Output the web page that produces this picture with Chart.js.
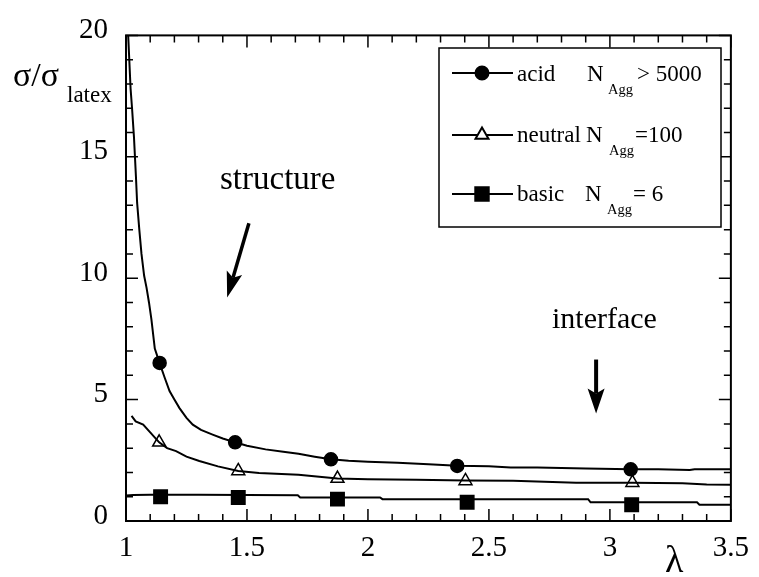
<!DOCTYPE html>
<html>
<head>
<meta charset="utf-8">
<script src="https://cdn.jsdelivr.net/npm/chart.js@4.4.1/dist/chart.umd.min.js"></script>
<style>
  html, body { margin: 0; padding: 0; background: #fff; }
  #wrap { position: relative; width: 759px; height: 577px; overflow: hidden; }
  canvas { position: absolute; left: 0; top: 0; }
  .t { position: absolute; font-family: 'Liberation Serif', 'Times New Roman', serif; line-height: 1; white-space: nowrap; color: #000; }
</style>
</head>
<body>
<div id="wrap"><canvas id="chart" width="759" height="577"></canvas></div>
<script>
// --- DATA ---
const xTicks = [1, 1.5, 2, 2.5, 3, 3.5];
const yTicks = [0, 5, 10, 15, 20];

const acidLambda = [1.009, 1.019, 1.025, 1.033, 1.041, 1.046, 1.055, 1.064, 1.075, 1.085, 1.095, 1.105, 1.119, 1.139, 1.160, 1.180, 1.200, 1.221, 1.250, 1.276, 1.310, 1.358, 1.400, 1.451, 1.500, 1.577, 1.650, 1.713, 1.780, 1.847, 1.920, 2.000, 2.123, 2.250, 2.369, 2.500, 2.590, 2.700, 2.900, 3.086, 3.200, 3.330, 3.350, 3.500];
const acidSigma  = [20.0, 17.8, 17.0, 15.8, 14.2, 13.1, 12.0, 11.0, 10.1, 9.6, 9.0, 8.3, 7.1, 6.5, 5.9, 5.35, 5.0, 4.65, 4.25, 3.97, 3.75, 3.56, 3.4, 3.24, 3.1, 2.95, 2.85, 2.77, 2.65, 2.54, 2.48, 2.44, 2.40, 2.34, 2.28, 2.25, 2.20, 2.20, 2.16, 2.13, 2.13, 2.10, 2.13, 2.13];

const neutralLambda = [1.023, 1.040, 1.071, 1.100, 1.137, 1.170, 1.207, 1.250, 1.303, 1.380, 1.464, 1.550, 1.713, 1.874, 2.000, 2.200, 2.403, 2.600, 2.860, 3.093, 3.300, 3.400, 3.500];
const neutralSigma  = [4.33, 4.10, 3.97, 3.65, 3.24, 3.00, 2.88, 2.65, 2.47, 2.25, 2.06, 1.98, 1.90, 1.75, 1.72, 1.70, 1.67, 1.66, 1.58, 1.58, 1.55, 1.50, 1.49];

const basicLambda = [1.000, 1.030, 1.100, 1.300, 1.500, 1.710, 1.720, 2.050, 2.060, 2.910, 2.920, 3.360, 3.370, 3.500];
const basicSigma  = [1.05, 1.07, 1.08, 1.08, 1.07, 1.06, 0.97, 0.97, 0.90, 0.90, 0.77, 0.77, 0.67, 0.67];

// symbols on each curve
const acidMarkLambda = [1.139, 1.451, 1.847, 2.369, 3.086];
const acidMarkSigma  = [6.51, 3.24, 2.54, 2.27, 2.13];
const neutralMarkLambda = [1.137, 1.464, 1.874, 2.403, 3.093];
const neutralMarkSigma  = [3.24, 2.06, 1.75, 1.65, 1.58];
const basicMarkLambda = [1.143, 1.464, 1.874, 2.410, 3.090];
const basicMarkSigma  = [1.00, 0.97, 0.90, 0.77, 0.67];

const toPoints = (xs, ys) => xs.map((x, i) => ({ x: x, y: ys[i] }));

const FONT = "'Liberation Serif', 'Times New Roman', serif";

// --- CURVE + MARKER DATASETS ---
const curve = (xs, ys) => ({
    data: toPoints(xs, ys),
    showLine: true,
    borderColor: '#000',
    borderWidth: 2,
    pointRadius: 0,
    tension: 0
});
const marks = (xs, ys, style, radius, fill) => ({
    data: toPoints(xs, ys),
    showLine: false,
    pointStyle: style,
    pointRadius: radius,
    backgroundColor: fill,
    borderColor: '#000',
    borderWidth: 1.5
});

// --- FRAME, INWARD TICKS, ARROWS, LEGEND ---
const drawArrow = (ctx, x1, y1, x2, y2, shaft, headLen, headHalf) => {
    const ang = Math.atan2(y2 - y1, x2 - x1);
    const cos = Math.cos(ang), sin = Math.sin(ang);
    const bx = x2 - cos * headLen * 0.8, by = y2 - sin * headLen * 0.8;
    ctx.beginPath();
    ctx.lineWidth = shaft;
    ctx.moveTo(x1, y1);
    ctx.lineTo(bx, by);
    ctx.stroke();
    const backX = x2 - cos * headLen, backY = y2 - sin * headLen;
    ctx.beginPath();
    ctx.moveTo(x2, y2);
    ctx.lineTo(backX - sin * headHalf, backY + cos * headHalf);
    ctx.lineTo(bx, by);
    ctx.lineTo(backX + sin * headHalf, backY - cos * headHalf);
    ctx.closePath();
    ctx.fill();
};

const framePlugin = {
    id: 'frame',
    afterDatasetsDraw(chart) {
        const { ctx, chartArea: a, scales } = chart;
        const xs = scales.x, ys = scales.y;
        ctx.save();
        ctx.strokeStyle = '#000';
        ctx.fillStyle = '#000';
        ctx.lineWidth = 2;
        ctx.strokeRect(a.left, a.top, a.right - a.left, a.bottom - a.top);

        ctx.beginPath();
        ctx.lineWidth = 1.5;
        for (let i = 0; i <= 25; i++) {
            const px = xs.getPixelForValue(1 + i * 0.1);
            const len = i % 5 === 0 ? 12 : 7;
            ctx.moveTo(px, a.bottom); ctx.lineTo(px, a.bottom - len);
            ctx.moveTo(px, a.top); ctx.lineTo(px, a.top + len);
        }
        for (let i = 0; i <= 20; i++) {
            const py = ys.getPixelForValue(i);
            const len = i % 5 === 0 ? 12 : 7;
            ctx.moveTo(a.left, py); ctx.lineTo(a.left + len, py);
            ctx.moveTo(a.right, py); ctx.lineTo(a.right - len, py);
        }
        ctx.stroke();

        // arrows, anchored in data space
        drawArrow(ctx, xs.getPixelForValue(1.508), ys.getPixelForValue(12.26),
                  xs.getPixelForValue(1.418), ys.getPixelForValue(9.2), 3.5, 26, 8);
        drawArrow(ctx, xs.getPixelForValue(2.943), ys.getPixelForValue(6.65),
                  xs.getPixelForValue(2.943), ys.getPixelForValue(4.43), 4, 25, 8.5);

        // legend box
        ctx.fillStyle = '#fff';
        ctx.fillRect(439, 48, 282, 179);
        ctx.lineWidth = 1.5;
        ctx.strokeRect(439, 48, 282, 179);
        const rows = [
            { y: 73, style: 'circle', r: 6.5, fill: '#000' },
            { y: 135, style: 'triangle', r: 7.5, fill: '#fff' },
            { y: 194, style: 'rect', r: 9.5, fill: '#000' }
        ];
        rows.forEach(row => {
            ctx.beginPath();
            ctx.lineWidth = 2;
            ctx.moveTo(452, row.y);
            ctx.lineTo(513, row.y);
            ctx.stroke();
            ctx.fillStyle = row.fill;
            Chart.helpers.drawPoint(ctx, { pointStyle: row.style, radius: row.r, borderWidth: 1.5, rotation: 0 }, 482, row.y);
        });
        ctx.restore();
    }
};

new Chart(document.getElementById('chart'), {
    type: 'scatter',
    data: {
        datasets: [
            curve(acidLambda, acidSigma),
            curve(neutralLambda, neutralSigma),
            curve(basicLambda, basicSigma),
            marks(acidMarkLambda, acidMarkSigma, 'circle', 6.5, '#000'),
            marks(neutralMarkLambda, neutralMarkSigma, 'triangle', 7.5, '#fff'),
            marks(basicMarkLambda, basicMarkSigma, 'rect', 9.5, '#000')
        ]
    },
    options: {
        responsive: false,
        animation: false,
        events: [],
        layout: { padding: { left: 0, top: 31, right: 24, bottom: 0 } },
        plugins: { legend: { display: false }, tooltip: { enabled: false } },
        scales: {
            x: {
                type: 'linear',
                min: 1, max: 3.5,
                afterFit: s => { s.height = 56; },
                afterBuildTicks: s => { s.ticks = xTicks.map(v => ({ value: v })); },
                grid: { display: false, drawTicks: false },
                border: { display: false },
                ticks: { color: '#000', padding: 10, maxRotation: 0, callback: v => String(v), font: { family: FONT, size: 29 } }
            },
            y: {
                type: 'linear',
                min: 0, max: 20,
                afterFit: s => { s.width = 126; },
                afterBuildTicks: s => { s.ticks = yTicks.map(v => ({ value: v })); },
                grid: { display: false, drawTicks: false },
                border: { display: false },
                ticks: { color: '#000', padding: 18, labelOffset: -5, callback: v => String(v), font: { family: FONT, size: 29 } }
            }
        }
    },
    plugins: [framePlugin]
});

// --- TEXT OVERLAYS (baseline-positioned) ---
const wrap = document.getElementById('wrap');
const label = (text, x, baseline, size) => {
    const d = document.createElement('div');
    d.className = 't';
    d.textContent = text;
    d.style.fontSize = size + 'px';
    d.style.left = x + 'px';
    d.style.top = (baseline - 0.8375 * size) + 'px';
    wrap.appendChild(d);
};
label('σ/σ', 13, 86, 34);
label('latex', 67, 102, 23);
label('λ', 665, 572, 38);
label('structure', 220, 190, 33);
label('interface', 552, 328, 30);

label('acid', 517, 81, 23);
label('N', 587, 81, 23);
label('Agg', 608, 94.5, 14.5);
label('> 5000', 637, 81, 23);

label('neutral', 517, 142, 23);
label('N', 586, 142, 23);
label('Agg', 609, 155, 14.5);
label('=100', 635, 142, 23);

label('basic', 517, 201, 23);
label('N', 585, 201, 23);
label('Agg', 607, 214, 14.5);
label('= 6', 633, 201, 23);
</script>
</body>
</html>
